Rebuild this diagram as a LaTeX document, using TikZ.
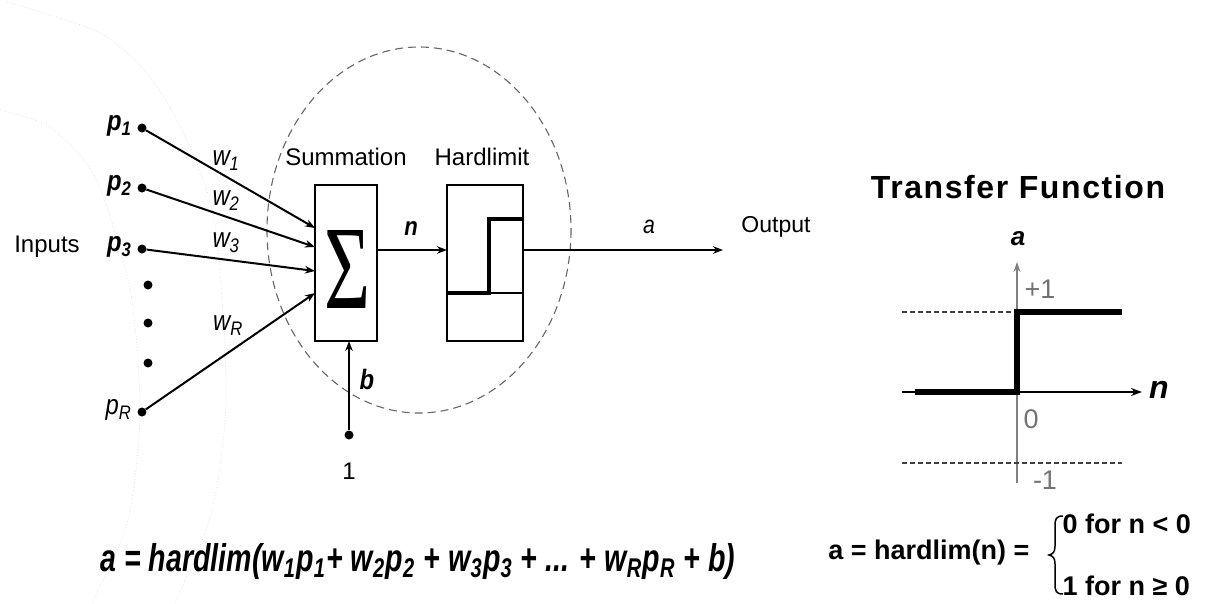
\documentclass[tikz,border=0pt]{standalone}
\usepackage{fontspec}
\usepackage{graphicx}
\setmainfont{Liberation Sans}
\newfontfamily\narrow[FakeStretch=0.85]{Liberation Sans}
\newfontfamily\tffont[LetterSpace=5]{Liberation Sans}
\newfontfamily\sigfont{Liberation Serif}
\usetikzlibrary{arrows.meta}
\begin{document}
\begin{tikzpicture}[x=1pt,y=-1pt,
  conn/.style={line width=2pt},
  arr/.style={conn,-{Stealth[length=10pt,width=7.5pt]}},
  dotn/.style={circle,fill=black,inner sep=0pt,minimum size=9pt},
  lbl/.style={font=\fontsize{24}{26}\selectfont},
  plbl/.style={font=\narrow\bfseries\itshape\fontsize{28}{30}\selectfont},
  wlbl/.style={font=\narrow\itshape\fontsize{28}{30}\selectfont},
  blk/.style={draw,line width=1.3pt,inner sep=0pt},
  faint/.style={draw=black!13,dotted,line width=0.7pt},
  tflbl/.style={text=black!55,font=\fontsize{27}{29}\selectfont},
  rform/.style={font=\bfseries\fontsize{27}{29}\selectfont}
]
\useasboundingbox (0,0) rectangle (1208,603);
\fill[white] (0,0) rectangle (1208,603);

% faint background arcs
\draw[faint] plot[smooth] coordinates {(0,110) (50,127) (93,173) (115,233) (132,300) (140,400) (136,470) (125,530) (92,603)};
\draw[faint] plot[smooth] coordinates {(7,2) (100,33) (150,77) (187,140) (213,213) (222,300) (226,400) (218,480) (206,530) (175,603)};

% dashed neuron boundary
\draw[dash pattern=on 8pt off 5pt, black!60, line width=1.1pt] (419,230) ellipse [x radius=152, y radius=183];

% blocks
\node[blk,minimum width=62pt,minimum height=156pt] (sum) at (346,263) {};
\node[blk,minimum width=76pt,minimum height=156pt] (hl) at (485,263) {};
\node (sigma) at (347.5,269) {\resizebox*{46pt}{78pt}{\sigfont Σ}};
\node[lbl] (sumlbl) at (346,157) {Summation};
\node[lbl] (hllbl) at (482,157) {Hardlimit};

% hardlimit icon
\draw[line width=1.3pt] (447,293) -- (523,293);
\draw[line width=4pt] (447,293) -- (489,293) -- (489,219) -- (523,219);

% inputs
\node[dotn] (p1) at (142,128) {};
\node[dotn] (p2) at (142,188) {};
\node[dotn] (p3) at (142,249) {};
\node[dotn] (d1) at (148,285) {};
\node[dotn] (d2) at (148,323) {};
\node[dotn] (d3) at (148,363) {};
\node[dotn] (pR) at (142,412) {};

\node[plbl,anchor=east] (lp1) at (135,126) {p\textsubscript{1}};
\node[plbl,anchor=east] (lp2) at (135,186) {p\textsubscript{2}};
\node[plbl,anchor=east] (lp3) at (135,247) {p\textsubscript{3}};
\node[plbl,anchor=east,font=\narrow\itshape\fontsize{28}{30}\selectfont] (lpR) at (135,410) {p\textsubscript{R}};
\node[lbl] (inputs) at (47,247) {Inputs};

\coordinate (s1) at (315,228);
\coordinate (s2) at (315,247);
\coordinate (s3) at (315,271);
\coordinate (s4) at (315,293);
\draw[arr] (p1) -- (s1);
\draw[arr] (p2) -- (s2);
\draw[arr] (p3) -- (s3);
\draw[arr] (pR) -- (s4);

\node[wlbl] (w1) at (226,161) {w\textsubscript{1}};
\node[wlbl] (w2) at (226,201) {w\textsubscript{2}};
\node[wlbl] (w3) at (226,243) {w\textsubscript{3}};
\node[wlbl] (wR) at (228,326) {w\textsubscript{R}};

% n connection
\coordinate (nA) at (377,250);
\coordinate (nB) at (447,250);
\draw[arr] (nA) -- (nB);
\node[wlbl,font=\narrow\bfseries\itshape\fontsize{26}{28}\selectfont] (nlbl) at (411,229) {n};

% output
\coordinate (oA) at (523,250);
\coordinate (oB) at (723,250);
\draw[arr] (oA) -- (oB);
\node[font=\narrow\itshape\fontsize{25}{27}\selectfont] (albl) at (649,227) {a};
\node[font=\fontsize{23}{25}\selectfont] (outlbl) at (776,227) {Output};

% bias
\node[dotn] (one) at (349,435) {};
\coordinate (sb) at (349,341);
\draw[arr] (one) -- (sb);
\node[plbl] (blbl) at (367,379) {b};
\node[font=\fontsize{24}{26}\selectfont] (onelbl) at (349,471) {1};

% formula
\node (eq) at (418,562) {\resizebox*{635pt}{36pt}{\bfseries\itshape a = hardlim(w\textsubscript{1}p\textsubscript{1}+ w\textsubscript{2}p\textsubscript{2} + w\textsubscript{3}p\textsubscript{3} + ... + w\textsubscript{R}p\textsubscript{R} + b)}};

% transfer function
\node[font=\tffont\bfseries\fontsize{32}{34}\selectfont] (tf) at (1018,187) {Transfer Function};
\coordinate (vA) at (1017,483);
\coordinate (vB) at (1017,262);
\coordinate (hA) at (902,392);
\coordinate (hB) at (1142,392);
\draw[black!50, line width=1.4pt, -{Stealth[length=10pt,width=7pt]}] (vA) -- (vB);
\draw[line width=1.3pt, -{Stealth[length=11pt,width=8pt]}] (hA) -- (hB);
\draw[dash pattern=on 5pt off 3pt, line width=1.2pt, black!75] (902,312) -- (1012,312);
\draw[dash pattern=on 5pt off 3pt, line width=1.2pt, black!75] (902,463) -- (1122,463);
\draw[line width=5.5pt, line join=miter] (915,392) -- (1017,392) -- (1017,312) -- (1122,312);
\node[font=\bfseries\itshape\fontsize{26}{28}\selectfont] (tfa) at (1018,239) {a};
\node[font=\bfseries\itshape\fontsize{32}{34}\selectfont] (tfn) at (1159,390) {n};
\node[tflbl] (plus1) at (1040,289) {+1};
\node[tflbl] (zero) at (1031,419) {0};
\node[tflbl] (minus1) at (1045,480) {-1};

% hardlim definition
\node[rform,anchor=east] (hdef) at (1033,553) {a = hardlim(n) =};
\draw[line width=1.5pt] (1063,516) .. controls (1056,516) and (1055,519) .. (1055,526) -- (1055,546) .. controls (1055,552) and (1053,554) .. (1049,555) .. controls (1053,556) and (1055,558) .. (1055,564) -- (1055,584) .. controls (1055,591) and (1056,594) .. (1063,594);
\node[rform,anchor=west] (case0) at (1059,524) {0 for n < 0};
\node[rform,anchor=west] (case1) at (1059,586) {1 for n ≥ 0};
\end{tikzpicture}
\end{document}
